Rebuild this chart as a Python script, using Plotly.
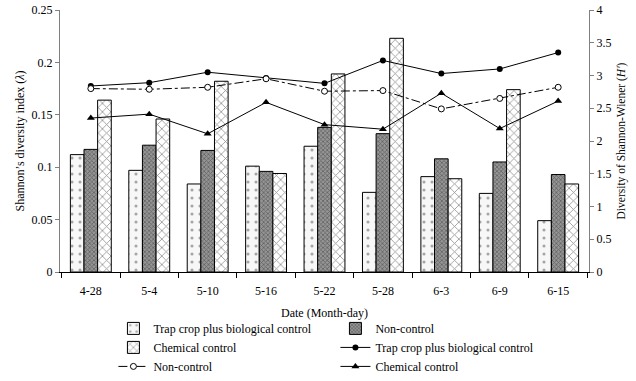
import plotly.graph_objects as go

dates = ["4-28", "5-4", "5-10", "5-16", "5-22", "5-28", "6-3", "6-9", "6-15"]

# Shannon's diversity index (lambda) - bars, left axis
lam_trap = [0.112, 0.097, 0.084, 0.101, 0.120, 0.076, 0.091, 0.075, 0.049]
lam_non = [0.117, 0.121, 0.116, 0.096, 0.138, 0.132, 0.108, 0.105, 0.093]
lam_chem = [0.164, 0.146, 0.182, 0.094, 0.189, 0.223, 0.089, 0.174, 0.084]

# Shannon-Wiener H' - lines, right axis
h_trap = [2.84, 2.89, 3.05, 2.96, 2.88, 3.23, 3.03, 3.10, 3.35]
h_non = [2.80, 2.79, 2.82, 2.95, 2.76, 2.77, 2.49, 2.65, 2.82]
h_chem = [2.35, 2.41, 2.11, 2.59, 2.25, 2.18, 2.73, 2.19, 2.61]

FONT = "Liberation Serif"

fig = go.Figure()

fig.add_trace(go.Bar(
    x=dates, y=lam_trap, name="Trap crop plus biological control",
    marker=dict(color="#f7f7f7", line=dict(color="black", width=1),
                pattern=dict(shape=".", fgcolor="#555", bgcolor="#f7f7f7", size=8, solidity=0.12)),
))
fig.add_trace(go.Bar(
    x=dates, y=lam_non, name="Non-control",
    marker=dict(color="#808080", line=dict(color="black", width=1),
                pattern=dict(shape="x", fgcolor="#2e2e2e", bgcolor="#959595", size=3, solidity=0.45)),
))
fig.add_trace(go.Bar(
    x=dates, y=lam_chem, name="Chemical control",
    marker=dict(color="white", line=dict(color="black", width=1),
                pattern=dict(shape="x", fgcolor="#222", bgcolor="white", size=6, solidity=0.25)),
))

fig.add_trace(go.Scatter(
    x=dates, y=h_trap, name="Trap crop plus biological control", yaxis="y2",
    mode="lines+markers", line=dict(color="black", width=1),
    marker=dict(symbol="circle", size=6, color="black"),
))
fig.add_trace(go.Scatter(
    x=dates, y=h_non, name="Non-control", yaxis="y2",
    mode="lines+markers", line=dict(color="black", width=1, dash="dashdot"),
    marker=dict(symbol="circle", size=6, color="white", line=dict(color="black", width=1)),
))
fig.add_trace(go.Scatter(
    x=dates, y=h_chem, name="Chemical control", yaxis="y2",
    mode="lines+markers", line=dict(color="black", width=1),
    marker=dict(symbol="triangle-up", size=7, color="black"),
))

fig.update_layout(
    width=636, height=381,
    margin=dict(l=60, r=47, t=10, b=109, autoexpand=False),
    paper_bgcolor="white", plot_bgcolor="white",
    font=dict(family=FONT, size=12, color="black"),
    barmode="group", bargap=0.3, bargroupgap=0,
    showlegend=True,
    legend=dict(orientation="h", x=0.101, xanchor="left", y=-0.16, yanchor="top",
                entrywidth=177, entrywidthmode="pixels", tracegroupgap=0,
                font=dict(family=FONT, size=12), bgcolor="rgba(0,0,0,0)"),
    xaxis=dict(
        title=dict(text="Date (Month-day)", font=dict(size=12), standoff=11),
        showline=True, linecolor="black", linewidth=1, automargin=False,
        ticks="outside", tickson="boundaries", ticklen=5, tickcolor="black",
        ticklabelstandoff=8,
        showgrid=False, tickfont=dict(size=12),
    ),
    yaxis=dict(
        title=dict(text="Shannon’s diversity index (<i>λ</i>)", font=dict(size=12), standoff=4),
        range=[0, 0.25], dtick=0.05, showline=True, linecolor="#808080", linewidth=1,
        ticks="outside", ticklen=4, tickcolor="#808080", showgrid=False, zeroline=False,
        tickfont=dict(size=12), automargin=False,
    ),
    yaxis2=dict(
        title=dict(text="Diversity of Shannon-Wiener (<i>H'</i>)", font=dict(size=11.5), standoff=6),
        overlaying="y", side="right", range=[0, 4], dtick=0.5,
        showline=True, linecolor="#808080", linewidth=1,
        ticks="outside", ticklen=4, tickcolor="#808080", showgrid=False, zeroline=False,
        tickfont=dict(size=12), automargin=False,
    ),
)

fig.write_html("out.html", config={"displayModeBar": False},
               post_script="document.body.style.margin='0';")
